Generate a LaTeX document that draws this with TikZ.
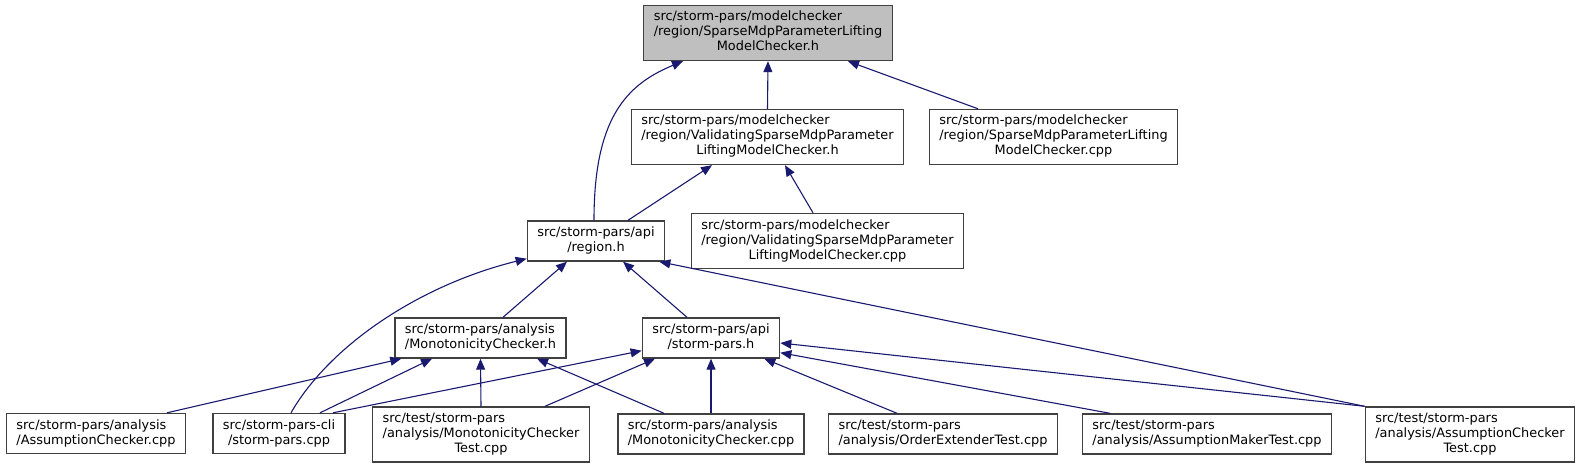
\documentclass[tikz,border=0pt]{standalone}
\usepackage{fontspec}
\setmainfont{DejaVu Sans}
\usetikzlibrary{arrows.meta}
\definecolor{edgeblue}{HTML}{191970}
\definecolor{boxline}{HTML}{404040}
\definecolor{focusgray}{HTML}{BFBFBF}
% first lines left, last line centred
\newcommand{\fname}[2]{\begin{tabular}{@{}l@{}}#1\\\multicolumn{1}{@{}c@{}}{#2}\end{tabular}}

\begin{document}
\begin{tikzpicture}[x=1pt, y=-1pt, >={Triangle[length=11pt,width=9pt]},
    file/.style={draw=boxline, line width=1.4pt, fill=white, inner xsep=10pt,
        inner ysep=5pt, font=\fontsize{12.9}{15}\selectfont},
    dep/.style={<-, edgeblue, line width=1.1pt}]
    \useasboundingbox (0,0) rectangle (1583,468);

    % Header files
    \node[file, fill=focusgray] (top) at (768,33)
        {\fname{src/storm-pars/modelchecker\\/region/SparseMdpParameterLifting}{ModelChecker.h}};
    \node[file] (valh) at (767.5,137)
        {\fname{src/storm-pars/modelchecker\\/region/ValidatingSparseMdpParameter}{LiftingModelChecker.h}};
    \node[file] (spcpp) at (1053.5,137)
        {\fname{src/storm-pars/modelchecker\\/region/SparseMdpParameterLifting}{ModelChecker.cpp}};
    \node[file] (valcpp) at (827.5,241)
        {\fname{src/storm-pars/modelchecker\\/region/ValidatingSparseMdpParameter}{LiftingModelChecker.cpp}};
    \node[file] (regh) at (596,241) {\fname{src/storm-pars/api}{/region.h}};
    \node[file] (monoh) at (480.5,338) {\fname{src/storm-pars/analysis}{/MonotonicityChecker.h}};
    \node[file] (parsh) at (711,338) {\fname{src/storm-pars/api}{/storm-pars.h}};

    % Bottom row
    \node[file] (asscpp) at (96,433.5) {\fname{src/storm-pars/analysis}{/AssumptionChecker.cpp}};
    \node[file] (cli) at (279,433.5) {\fname{src/storm-pars-cli}{/storm-pars.cpp}};
    \node[file] (monotest) at (481,434.5)
        {\fname{src/test/storm-pars\\/analysis/MonotonicityChecker}{Test.cpp}};
    \node[file] (monocpp) at (711,434) {\fname{src/storm-pars/analysis}{/MonotonicityChecker.cpp}};
    \node[file] (ordtest) at (943,434) {\fname{src/test/storm-pars}{/analysis/OrderExtenderTest.cpp}};
    \node[file] (makertest) at (1207,434) {\fname{src/test/storm-pars}{/analysis/AssumptionMakerTest.cpp}};
    \node[file] (asstest) at (1470,434.5)
        {\fname{src/test/storm-pars\\/analysis/AssumptionChecker}{Test.cpp}};

    % Includes of the header
    \draw[dep] (top.south) -- (valh.north);
    \draw[dep] ([xshift=80pt]top.south) -- ([xshift=-75.5pt]spcpp.north);
    \draw[dep] ([xshift=-85pt]top.south) .. controls (625,85) and (594,120) .. ([xshift=-2pt]regh.north);
    \draw[dep] ([xshift=-55.5pt]valh.south) -- ([xshift=32pt]regh.north);
    \draw[dep] ([xshift=17.5pt]valh.south) -- ([xshift=-14.5pt]valcpp.north);

    % Includes of region.h
    \draw[dep] ([xshift=-29pt]regh.south) -- ([xshift=22.5pt]monoh.north);
    \draw[dep] ([xshift=27pt]regh.south) -- ([xshift=-24pt]parsh.north);
    \draw[dep] ([yshift=3pt]regh.south west) .. controls (420,285) and (330,345) .. ([xshift=12pt]cli.north);
    \draw[dep] ([xshift=-6pt]regh.south east) -- (asstest.north west);

    % Includes of MonotonicityChecker.h
    \draw[dep] ([xshift=7pt]monoh.south west) -- ([xshift=71pt]asscpp.north);
    \draw[dep] ([xshift=-48.5pt]monoh.south) -- ([xshift=41pt]cli.north);
    \draw[dep] (monoh.south) -- (monotest.north);
    \draw[dep] ([xshift=56.5pt]monoh.south) -- ([xshift=-47pt]monocpp.north);

    % Includes of storm-pars.h
    \draw[dep] ([yshift=8pt]parsh.south west) -- ([xshift=54pt]cli.north);
    \draw[dep] ([xshift=-56pt]parsh.south) -- ([xshift=64pt]monotest.north);
    \draw[dep] (parsh.south) -- (monocpp.north);
    \draw[dep] ([xshift=-16pt]parsh.south east) -- ([xshift=-46pt]ordtest.north);
    \draw[dep] ([yshift=6pt]parsh.south east) -- ([xshift=-97pt]makertest.north);
    \draw[dep] ([yshift=-5pt]parsh.east) -- (asstest.north west);
\end{tikzpicture}
\end{document}
